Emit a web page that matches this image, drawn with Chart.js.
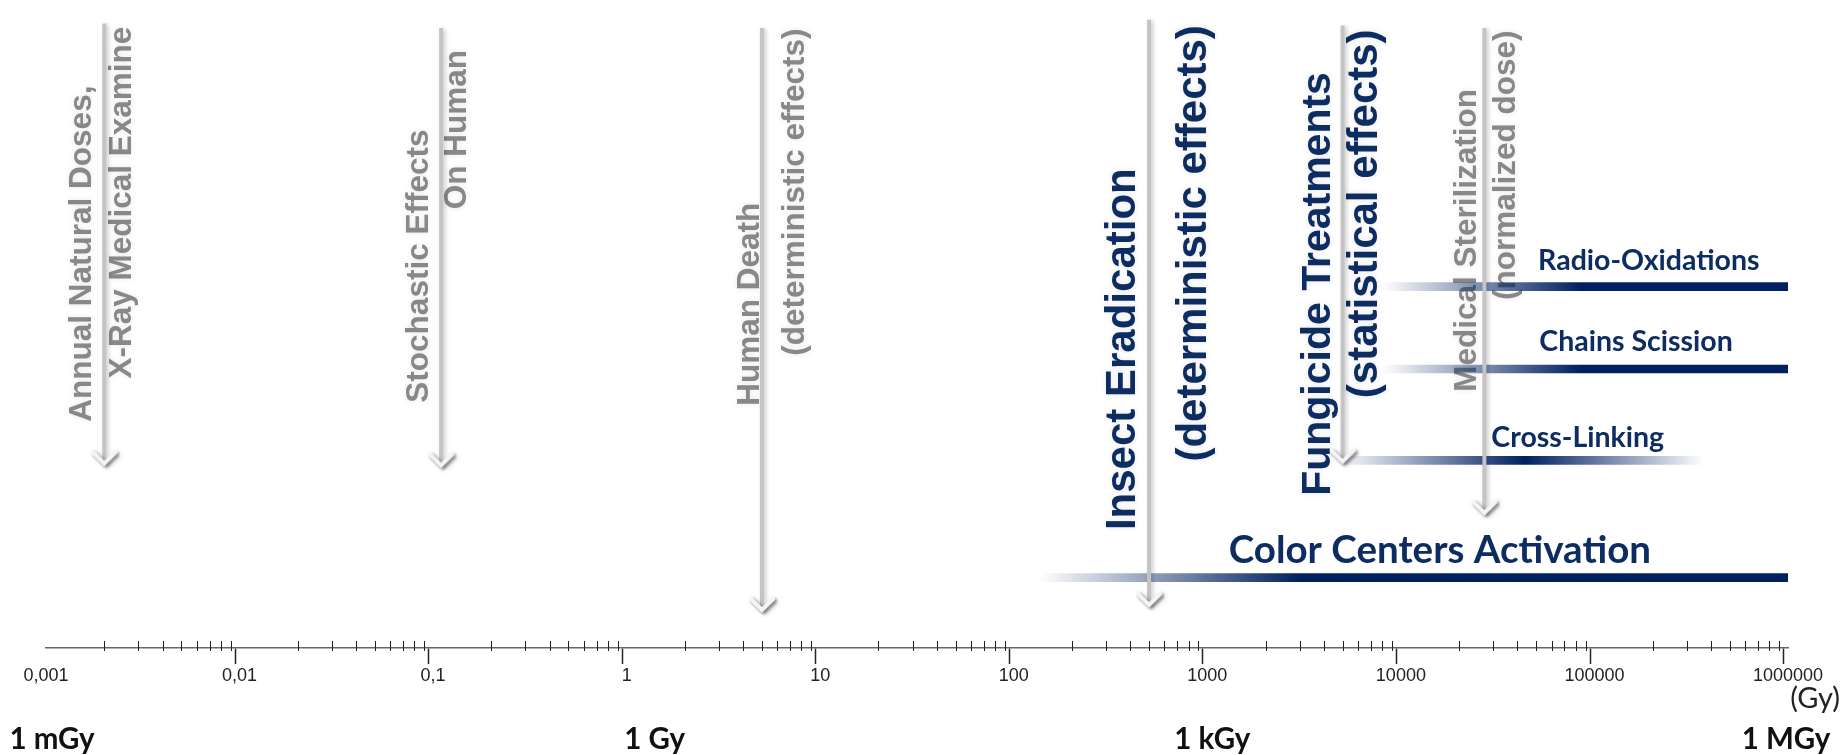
<!DOCTYPE html>
<html><head><meta charset="utf-8">
<script src="https://cdn.jsdelivr.net/npm/chart.js@4.4.1/dist/chart.umd.min.js"></script>
<style>html,body{margin:0;padding:0;background:#fff;overflow:hidden}canvas{display:block}</style>
</head><body>
<canvas id="c" width="1841" height="755"></canvas>
<script>
// ---------- data ----------
const tickValues = [0.001, 0.01, 0.1, 1, 10, 100, 1000, 10000, 100000, 1000000];
const tickLabels = ['0,001', '0,01', '0,1', '1', '10', '100', '1000', '10000', '100000', '1000000'];
const unitLabel = '(Gy)';
const scaleNames = ['1 mGy', '1 Gy', '1 kGy', '1 MGy'];
const scaleNameValues = [0.001, 1, 1000, 1000000];

const arrowLines = [
  ['Annual Natural Doses,', 'X-Ray Medical Examine'],
  ['Stochastic Effects', 'On Human'],
  ['Human Death', '(deterministic effects)'],
  ['Insect Eradication', '(deterministic effects)'],
  ['Fungicide Treatments', '(statistical effects)'],
  ['Medical Sterilization', '(normalized dose)']
];
const arrowDoses = [0.002, 0.11, 5, 500, 5000, 27000];

const bandLabels = ['Radio-Oxidations', 'Chains Scission', 'Cross-Linking', 'Color Centers Activation'];
const bandStart = [8000, 8000, 4700, 135];
const bandSolid = [85000, 85000, 44000, 3000];
const bandEnd = [1000000, 1000000, 370000, 1000000];
const bandFadesOut = [false, false, true, false];

// ---------- layout / style (not data) ----------
const GRAY = '#888888', NAVY_T = '#0d2d62', NAVY = '0,32,96';
const L = {
  arrowTop: [98.5, 97.8, 97.8, 99.1, 98.2, 97.8],
  arrowTip: [29.1, 28.8, 6.0, 6.8, 29.4, 21.3],
  textDx: [[-22, 18], [-22, 16], [-12, 33], [-26, 45], [-24, 23], [-17, 22]],
  textFrom: [[35.7, 42.5], [38.7, 69.2], [38.2, 46.1], [18.6, 29.4], [24.0, 39.4], [40.4, 54.9]],
  textSize: [[31.5, 31.5], [31.5, 31.5], [31.5, 31.5], [42, 42], [41, 42], [31.5, 31.5]],
  textColor: [GRAY, GRAY, GRAY, NAVY_T, NAVY_T, GRAY],
  bandLevel: [57.0, 44.0, 29.6, 11.1],
  bandLabelAt: [191000, 164000, 82000, 15900],
  bandLabelRise: [26, 27, 23, 27],
  bandLabelSize: [28.5, 28.5, 28.5, 38.5],
  nameDx: [6, 28, 5, -2],
  nameDy: 91,
  nameSize: 29.5,
  unitDx: 52, unitDy: 51, unitSize: 29
};

function makeChevron() {
  const c = document.createElement('canvas');
  c.width = 32; c.height = 38;
  const g = c.getContext('2d');
  g.lineWidth = 4; g.lineCap = 'round';
  g.shadowColor = 'rgba(0,0,0,0.4)'; g.shadowBlur = 3; g.shadowOffsetX = 2; g.shadowOffsetY = 2;
  g.strokeStyle = '#f4f4f4';
  g.beginPath(); g.moveTo(5, 8); g.lineTo(16, 19); g.lineTo(27, 8); g.stroke();
  return c;
}
const chevron = makeChevron();

function bandGradient(context) {
  const chart = context.chart;
  if (!chart.chartArea || context.dataIndex === undefined) return 'rgb(' + NAVY + ')';
  const i = context.dataIndex, xs = chart.scales.x;
  const x0 = xs.getPixelForValue(bandStart[i]), x1 = xs.getPixelForValue(bandEnd[i]);
  const g = chart.ctx.createLinearGradient(x0, 0, x1, 0);
  const f = v => Math.min(1, Math.max(0, (xs.getPixelForValue(v) - x0) / (x1 - x0)));
  g.addColorStop(0, 'rgba(' + NAVY + ',0)');
  g.addColorStop(f(bandSolid[i]), 'rgba(' + NAVY + ',1)');
  g.addColorStop(1, 'rgba(' + NAVY + ',' + (bandFadesOut[i] ? 0 : 1) + ')');
  return g;
}

const arrowDatasets = arrowDoses.map((d, i) => ({
  type: 'line',
  data: [{ x: d, y: L.arrowTop[i] }, { x: d, y: L.arrowTip[i] }],
  borderColor: '#c4c4c4',
  borderWidth: 4,
  tension: 0,
  fill: false,
  pointStyle: chevron,
  pointRadius: c => (c.dataIndex === 1 ? 10 : 0),
  isArrow: true
}));

const bandDataset = {
  type: 'bar',
  indexAxis: 'y',
  data: bandLabels.map((_, i) => ({ x: [bandStart[i], bandEnd[i]], y: L.bandLevel[i] })),
  backgroundColor: bandGradient,
  borderWidth: 0,
  barThickness: 8
};

const annot = {
  id: 'annot',
  beforeDatasetsDraw(chart) {
    const { ctx, scales: { x, y } } = chart;
    arrowLines.forEach((lines, i) => {
      lines.forEach((t, j) => {
        ctx.save();
        ctx.translate(x.getPixelForValue(arrowDoses[i]) + L.textDx[i][j], y.getPixelForValue(L.textFrom[i][j]));
        ctx.rotate(-Math.PI / 2);
        ctx.font = 'bold ' + L.textSize[i][j] + 'px "Liberation Sans", Arial, sans-serif';
        ctx.fillStyle = L.textColor[i];
        ctx.shadowColor = 'rgba(0,0,0,0.10)'; ctx.shadowBlur = 6;
        ctx.textAlign = 'left'; ctx.textBaseline = 'middle';
        ctx.fillText(t, 0, 0);
        ctx.restore();
      });
    });
    bandLabels.forEach((t, i) => {
      ctx.save();
      ctx.font = 'bold ' + L.bandLabelSize[i] + 'px Lato, "Open Sans", sans-serif';
      ctx.fillStyle = NAVY_T;
      ctx.textAlign = 'center'; ctx.textBaseline = 'middle';
      ctx.fillText(t, x.getPixelForValue(L.bandLabelAt[i]), y.getPixelForValue(L.bandLevel[i]) - L.bandLabelRise[i]);
      ctx.restore();
    });
  },
  beforeDatasetDraw(chart, args) {
    const ds = chart.data.datasets[args.index];
    if (ds.isArrow) {
      const ctx = chart.ctx;
      ctx.shadowColor = 'rgba(0,0,0,0.22)'; ctx.shadowBlur = 4; ctx.shadowOffsetX = 2; ctx.shadowOffsetY = 1;
    }
  },
  afterDatasetDraw(chart) {
    const ctx = chart.ctx;
    ctx.shadowColor = 'rgba(0,0,0,0)'; ctx.shadowBlur = 0; ctx.shadowOffsetX = 0; ctx.shadowOffsetY = 0;
  },
  afterDraw(chart) {
    const { ctx, scales: { x }, chartArea } = chart;
    const base = chartArea.bottom;
    // minor ticks (above the axis line)
    ctx.save();
    ctx.strokeStyle = '#222'; ctx.lineWidth = 1;
    x.ticks.forEach(t => {
      if (t.major) return;
      const px = Math.round(x.getPixelForValue(t.value)) + 0.5;
      ctx.beginPath(); ctx.moveTo(px, base - 7); ctx.lineTo(px, base + 3); ctx.stroke();
    });
    ctx.restore();
    // unit
    ctx.save();
    ctx.font = L.unitSize + 'px Lato, "Open Sans", sans-serif';
    ctx.fillStyle = '#222'; ctx.textAlign = 'right'; ctx.textBaseline = 'middle';
    ctx.fillText(unitLabel, x.getPixelForValue(1000000) + L.unitDx, base + L.unitDy);
    // scale names
    ctx.font = 'bold ' + L.nameSize + 'px Lato, "Open Sans", sans-serif';
    ctx.fillStyle = '#111'; ctx.textAlign = 'center';
    scaleNames.forEach((n, i) => {
      ctx.fillText(n, x.getPixelForValue(scaleNameValues[i]) + L.nameDx[i], base + L.nameDy);
    });
    ctx.restore();
  }
};

new Chart(document.getElementById('c'), {
  type: 'bar',
  data: { datasets: [...arrowDatasets, bandDataset] },
  options: {
    responsive: false,
    devicePixelRatio: 1,
    animation: false,
    events: [],
    layout: { padding: { left: 46, right: 53, top: 0, bottom: 67.4 } },
    plugins: { legend: { display: false }, tooltip: { enabled: false } },
    scales: {
      x: {
        type: 'logarithmic',
        min: tickValues[0],
        max: tickValues[tickValues.length - 1],
        offset: false,
        afterBuildTicks(scale) {
          const t = [];
          tickValues.forEach((v, k) => {
            t.push({ value: v, major: true });
            if (k < tickValues.length - 1) for (let m = 2; m < 10; m++) t.push({ value: v * m, major: false });
          });
          scale.ticks = t;
        },
        ticks: {
          autoSkip: false, maxRotation: 0, minRotation: 0, padding: 1,
          color: '#222',
          font: { family: '"Liberation Sans", Arial, sans-serif', size: 18 },
          callback: (value, index, ticks) => {
            const k = tickValues.indexOf(ticks[index].major ? ticks[index].value : NaN);
            return k >= 0 ? tickLabels[k] : '';
          }
        },
        grid: {
          display: true, drawOnChartArea: false, drawTicks: true, tickLength: 16,
          tickColor: c => (c.tick && c.tick.major ? '#222' : 'rgba(0,0,0,0)'),
          tickWidth: 1.5
        },
        border: { display: true, color: '#666', width: 1.5 }
      },
      y: { type: 'linear', min: 0, max: 100, display: false, offset: false }
    }
  },
  plugins: [annot]
});
</script>
</body></html>
